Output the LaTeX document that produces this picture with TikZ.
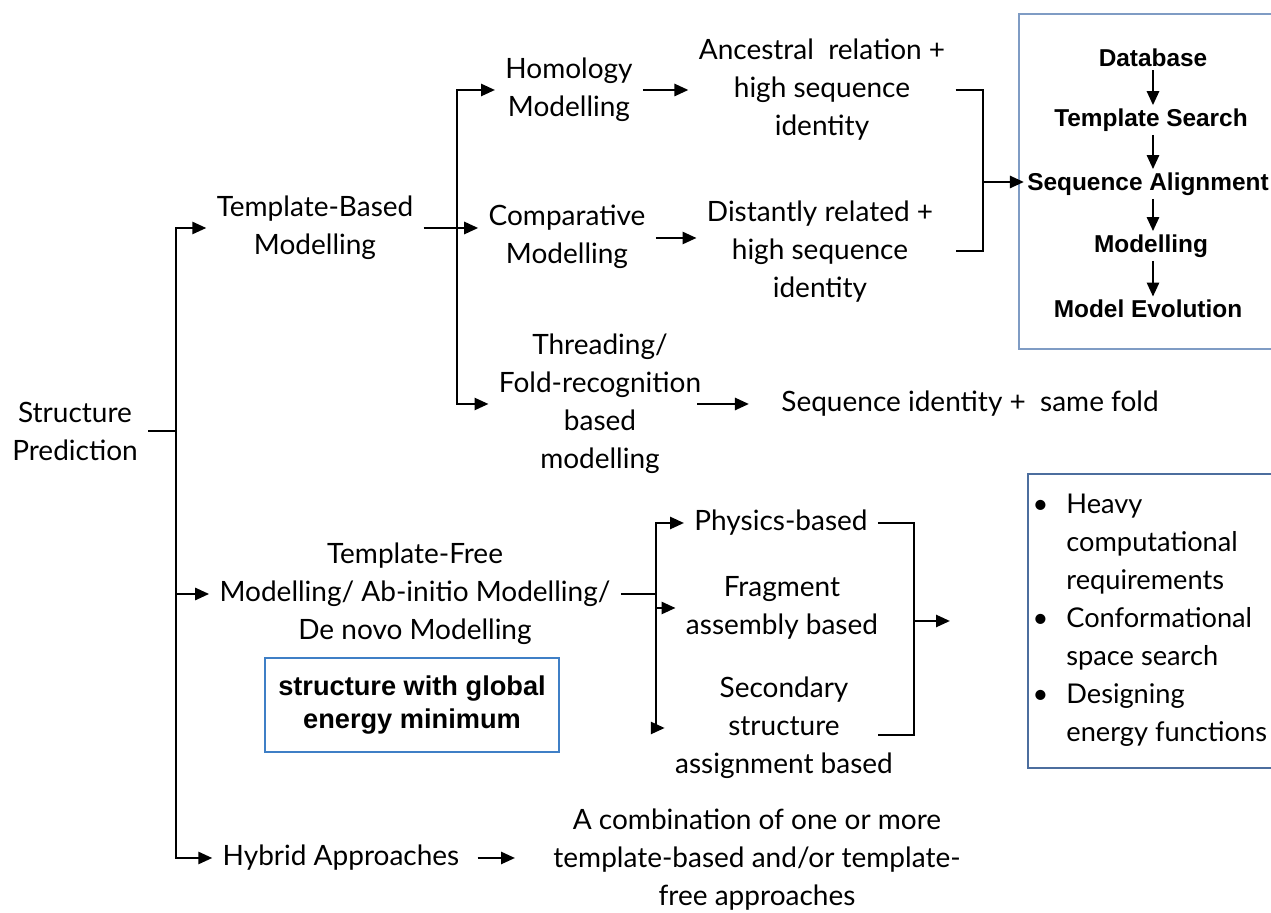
\documentclass[tikz,border=0pt]{standalone}
\usepackage{fontspec}
\setmainfont{Lato}
\newfontfamily\flowfont{Liberation Sans}
\usetikzlibrary{arrows.meta}

\definecolor{frameA}{HTML}{7F9CC4}
\definecolor{frameB}{HTML}{4C6E9E}
\definecolor{frameC}{HTML}{3F7FC6}

\begin{document}
\begin{tikzpicture}[x=0.5pt, y=-0.5pt,
	txt/.style={align=center, inner sep=5pt, font=\fontsize{14}{19}\selectfont},
	flow/.style={align=center, inner sep=1.5pt, font=\flowfont\bfseries\fontsize{12.2}{16}\selectfont},
	arr/.style={line width=1.3pt, -{Triangle[length=7pt, width=6pt]}},
	ln/.style={line width=1.3pt}]
	
	\useasboundingbox (0, 0) rectangle (1271, 913);
	
	\node[txt] (sp) at (75, 431) {Structure\\Prediction};
	\node[txt] (tbm) at (315, 228) {Template-Based\\Modelling};
	\node[txt] (tfm) at (415, 594) {Template-Free\\Modelling/ Ab-initio Modelling/\\De novo Modelling};
	\node[txt] (hyb) at (341, 858) {Hybrid Approaches};
	
	\node[txt] (hom) at (569, 90) {Homology\\Modelling};
	\node[txt] (comp) at (567, 237) {Comparative\\Modelling};
	\node[txt] (thr) at (600, 404) {Threading/\\Fold-recognition\\based\\modelling};
	
	\node[txt] (anc) at (822, 90) {Ancestral\ \ relation +\\high sequence\\identity};
	\node[txt] (dist) at (820, 252) {Distantly related +\\high sequence\\identity};
	\node[txt] (same) at (970, 404) {Sequence identity + \ same fold};
	
	\node[txt] (phys) at (781, 523) {Physics-based};
	\node[txt] (frag) at (782, 608) {Fragment\\assembly based};
	\node[txt] (sec) at (784, 728) {Secondary\\structure\\assignment based};
	\node[txt] (comb) at (757, 860) {A combination of one or more\\template-based and/or template-\\free approaches};
	
	% template-based pipeline
	\draw[frameA, line width=1pt] (1271, 14) -- (1019, 14) -- (1019, 349) -- (1271, 349);
	\node[flow] (db) at (1153, 58) {Database};
	\node[flow] (ts) at (1151, 120) {Template Search};
	\node[flow] (sa) at (1148, 184) {Sequence Alignment};
	\node[flow] (mod) at (1151, 246) {Modelling};
	\node[flow] (me) at (1148, 309) {Model Evolution};
	\foreach \a/\b in {db/ts, ts/sa, sa/mod, mod/me}
		\draw[arr] (\a.south -| db) -- (\b.north -| db);
	
	% template-free issues
	\draw[frameB, line width=1.1pt] (1271, 474) -- (1028, 474) -- (1028, 768) -- (1271, 768);
	\node[txt, align=left, anchor=west, font=\fontsize{13.6}{19}\selectfont] (req) at (1056, 620)
		{\llap{\textbullet\hspace{9pt}}Heavy\\computational\\requirements\\
		\llap{\textbullet\hspace{9pt}}Conformational\\space search\\
		\llap{\textbullet\hspace{9pt}}Designing\\energy functions};
	
	\node[flow, draw=frameC, line width=1.1pt, minimum width=147pt, minimum height=47pt,
		font=\flowfont\bfseries\fontsize{13.6}{16.5}\selectfont] (gem) at (412, 705) {structure with global\\energy minimum};
	
	% branches
	\coordinate (j1) at (176, 431);
	\draw[ln] (sp) -- (j1);
	\draw[arr] (j1) |- (tbm.west);
	\draw[arr] (j1) |- (tfm.west);
	\draw[arr] (j1) |- (hyb.west);
	
	\coordinate (j2) at (457, 228);
	\draw[ln] (tbm) -- (j2);
	\draw[arr] (j2) |- (hom.west);
	\draw[arr] (j2) -- (j2 -| comp.west);
	\draw[arr] (j2) |- (thr.west);
	
	\draw[arr] (hom) -- (anc);
	\draw[arr] (comp.east |- 0, 238) -- (dist.west |- 0, 238);
	\draw[arr, shorten <=-7pt, shorten >=11pt] (thr) -- (same);
	
	\coordinate (b1) at (983, 182);
	\draw[ln] (anc.east) -| (b1) |- (anc.east |- 0, 251);
	\draw[arr] (b1) -- (b1 -| sa.west);
	
	\coordinate (j3) at (656, 594);
	\draw[ln] (tfm) -- (j3);
	\draw[arr] (j3) |- (phys.west);
	\draw[arr] (j3) |- (frag.west);
	\draw[arr] (j3) |- (sec.west);
	
	\coordinate (b2) at (914, 621);
	\coordinate (b2e) at (950, 621);
	\draw[ln] (phys.east) -| (b2) |- (phys.east |- 0, 735);
	\draw[arr] (b2) -- (b2e);
	
	\draw[arr, shorten <=4pt, shorten >=14pt] (hyb) -- (hyb -| comb.west);
	
\end{tikzpicture}
\end{document}
